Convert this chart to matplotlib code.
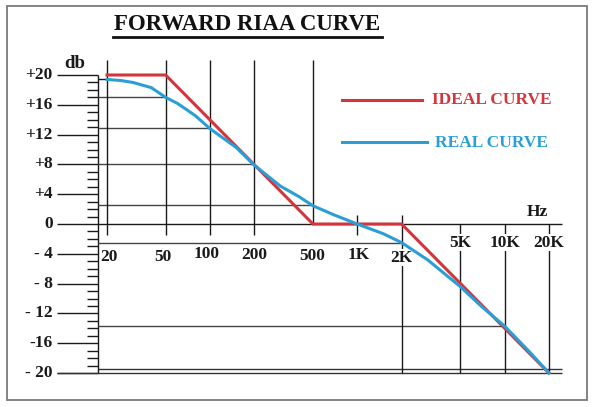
import numpy as np
import matplotlib
matplotlib.use("Agg")
import matplotlib.pyplot as plt
from matplotlib.lines import Line2D
from matplotlib.patches import Rectangle

# data
freq_ideal = [20, 50, 500, 2000, 20000]
db_ideal = [20, 20, 0, 0, -20]

freq_real = [20, 25, 30, 40, 50, 60, 70, 80, 100, 150, 200, 300, 400, 500, 700,
             1000, 1500, 2000, 3000, 5000, 7000, 10000, 15000, 20000]
db_real = [19.4, 19.25, 19.0, 18.3, 17.0, 16.2, 15.3, 14.5, 12.8, 10.3, 7.9, 5.1, 3.7, 2.45, 1.2,
           0.0, -1.3, -2.5, -4.8, -8.4, -11.1, -13.7, -17.3, -20.0]

y_ticks = [20, 16, 12, 8, 4, 0, -4, -8, -12, -16, -20]
y_labels = ["+20", "+16", "+12", "+8", "+4", "0", "- 4", "- 8", "- 12", "-16", "- 20"]

x_ticks_lo = [20, 50, 100, 200, 500, 1000, 2000]
x_labels_lo = ["20", "50", "100", "200", "500", "1K", "2K"]
x_ticks_hi = [5000, 10000, 20000]
x_labels_hi = ["5K", "10K", "20K"]

# reference lines from the y axis over to a frequency (real curve level)
ref_db = [17.0, 12.9, 8.0, 2.5, -2.5, -13.7]
ref_f = [50, 100, 200, 500, 2000, 10000]

W, H = 594, 407
RED = "#d3353d"
BLUE = "#2a9fd6"
INK = "#1a1a1a"

fig = plt.figure(figsize=(W / 100, H / 100), dpi=100)
ax = fig.add_axes([0, 0, 1, 1])
ax.set_xscale("log")

# pixel mapping: 20 Hz at x=107, 147.3 px per decade; 0 dB at y=224, 7.45 px per dB
ppd = 147.3
x0 = np.log10(20) - 107 / ppd
ax.set_xlim(10 ** x0, 10 ** (x0 + W / ppd))
ax.set_ylim((224 - H) / 7.45, 224 / 7.45)
ax.axis("off")


def fpx(x):
    # pixel x -> frequency
    return 10 ** (x0 + x / ppd)


def fx(x):
    return x / W


def fy(y):
    return 1 - y / H


f_axis = fpx(97.5)
f_lab = fpx(57)
f_minor = fpx(87)
f_right = fpx(562)

serif = dict(family="Liberation Serif", weight="bold")
TS = 12.5

# y axis and ticks
ax.vlines(f_axis, -20, 20, color=INK, lw=1)
ax.hlines(y_ticks, f_lab, f_axis, color=INK, lw=1)
minor = [d for d in range(-20, 21) if d % 4 != 0]
ax.hlines(minor, f_minor, f_axis, color=INK, lw=1)
for d, lab in zip(y_ticks, y_labels):
    ax.text(fpx(52.5), d, lab, ha="right", va="center", fontsize=TS, color=INK, **serif)

# horizontal lines
ax.hlines(0, f_axis, f_right, color=INK, lw=1)
ax.hlines(-20, f_lab, f_right, color="#333333", lw=1)
ax.hlines(-19.5, f_axis, f_right, color="#333333", lw=1)
ax.hlines(19.4, f_axis, 20, color=INK, lw=1)
ax.hlines(ref_db, f_axis, ref_f, color="#444444", lw=1)

# vertical lines
ax.vlines(x_ticks_lo[:4], -1.5, 22, color=INK, lw=1)
ax.vlines(500, 0, 22, color=INK, lw=1)
ax.vlines(1000, -1.5, 1.2, color=INK, lw=1)
ax.vlines(2000, -20, 1.2, color=INK, lw=1)
ax.vlines(x_ticks_hi, -20, 0, color=INK, lw=1)

# x labels
lo_y = [-4.4, -4.4, -4.0, -4.1, -4.3, -4.1, -4.5]
lo_dx = [2, -3, -3, 0, -1, 1, 0]
for f, lab, yy, dx in zip(x_ticks_lo, x_labels_lo, lo_y, lo_dx):
    ax.text(f * 10 ** (dx / ppd), yy, lab, ha="center", va="center", fontsize=TS, color=INK,
            bbox=dict(fc="white", ec="none", pad=0.5), **serif)
for f, lab in zip(x_ticks_hi, x_labels_hi):
    ax.text(f, -2.5, lab, ha="center", va="center", fontsize=TS, color=INK,
            bbox=dict(fc="white", ec="none", pad=0.5), **serif)

# curves
ax.plot(freq_ideal, db_ideal, color=RED, lw=2.2, solid_joinstyle="miter", zorder=5)
ax.plot(freq_real, db_real, color=BLUE, lw=2.2, solid_joinstyle="round", zorder=6)

# axis names
fig.text(fx(75), fy(64), "db", ha="center", va="center", fontsize=13.5, color=INK, **serif)
fig.text(fx(537), fy(212), "Hz", ha="center", va="center", fontsize=12.5, color=INK, **serif)

# title with underline
fig.text(fx(247.5), fy(25), "FORWARD RIAA CURVE", ha="center", va="center",
         fontsize=16.5, color="#111111", **serif)
fig.add_artist(Line2D([fx(113), fx(382)], [fy(37), fy(37)], color="#111111", lw=2))

# legend
fig.add_artist(Line2D([fx(342), fx(422)], [fy(100), fy(100)], color=RED, lw=2.2))
fig.add_artist(Line2D([fx(342), fx(427)], [fy(142), fy(142)], color=BLUE, lw=2.2))
fig.text(fx(432), fy(100), "IDEAL CURVE", ha="left", va="center", fontsize=TS, color=RED, **serif)
fig.text(fx(435), fy(143), "REAL CURVE", ha="left", va="center", fontsize=TS, color=BLUE, **serif)

# frame
fig.add_artist(Rectangle((fx(7), fy(400)), fx(580), 394 / H, transform=fig.transFigure,
                         fill=False, ec="#7a7a7a", lw=1.3))

fig.savefig("out.png", dpi=100)
